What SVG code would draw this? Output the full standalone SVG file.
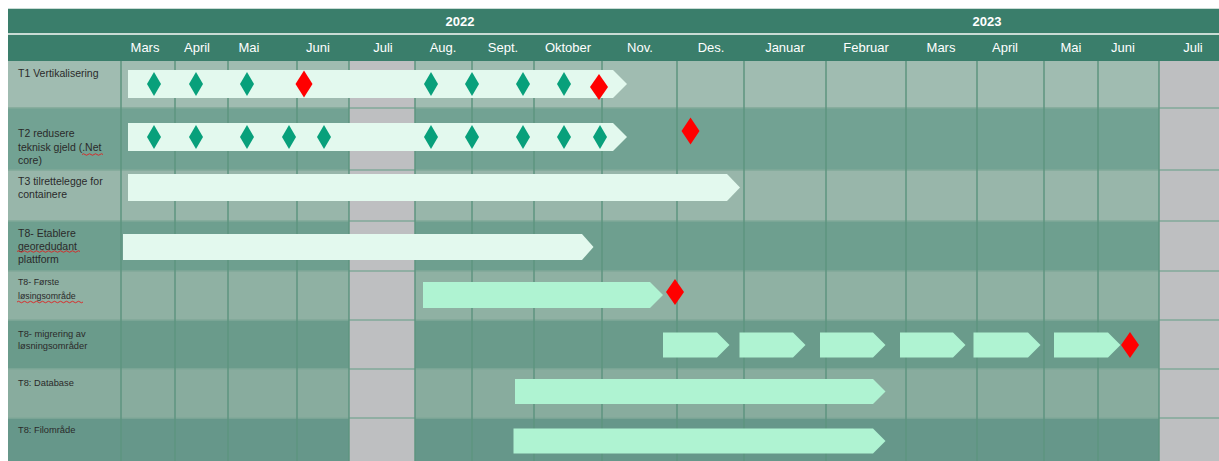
<svg xmlns="http://www.w3.org/2000/svg" width="1219" height="461" viewBox="0 0 1219 461">
<style>
.hdr{fill:#3a7e6b}
.yr{font-family:"Liberation Sans",Arial,sans-serif;font-size:13px;font-weight:bold;fill:#fff;text-anchor:middle}
.mo{font-family:"Liberation Sans",Arial,sans-serif;font-size:13px;fill:#fff;text-anchor:middle}
.lbl{font-family:"Liberation Sans",Arial,sans-serif;font-size:10.5px;fill:#2a2a2a}
.lbs{font-family:"Liberation Sans",Arial,sans-serif;font-size:9.3px;fill:#2a2a2a}
.gray{fill:#bebfc1}
.vl{stroke:#5e957f;stroke-width:1.5}
.hl{stroke:#80a899;stroke-width:1.5}
.bar1{fill:#e3f9ee}
.bar2{fill:#aff3d2}
.gd{fill:#08a07b}
.rd{fill:#ff0000}
.sq{fill:none;stroke:#e02020;stroke-width:0.9}
</style>
<defs>
<polygon id="gdia" points="0,-12 7,0 0,12 -7,0"/>
</defs>
<rect x="0" y="0" width="1219" height="461" fill="#ffffff"/>
<g id="header">
<rect x="8" y="8" width="1211" height="1.5" fill="#c9dcd5"/>
<rect class="hdr" x="8" y="9" width="1211" height="24"/>
<rect x="8" y="33" width="1211" height="2" fill="#c9dcd5"/>
<rect class="hdr" x="8" y="35" width="1211" height="26"/>
<text class="yr" x="460" y="26">2022</text>
<text class="yr" x="987" y="26">2023</text>
<text class="mo" x="145" y="52">Mars</text>
<text class="mo" x="197" y="52">April</text>
<text class="mo" x="249" y="52">Mai</text>
<text class="mo" x="318" y="52">Juni</text>
<text class="mo" x="383" y="52">Juli</text>
<text class="mo" x="443" y="52">Aug.</text>
<text class="mo" x="503" y="52">Sept.</text>
<text class="mo" x="568" y="52">Oktober</text>
<text class="mo" x="640" y="52">Nov.</text>
<text class="mo" x="711" y="52">Des.</text>
<text class="mo" x="785" y="52">Januar</text>
<text class="mo" x="866" y="52">Februar</text>
<text class="mo" x="941" y="52">Mars</text>
<text class="mo" x="1005" y="52">April</text>
<text class="mo" x="1071" y="52">Mai</text>
<text class="mo" x="1123" y="52">Juni</text>
<text class="mo" x="1193" y="52">Juli</text>
</g>
<g id="rows">
<rect x="8" y="61" width="1211" height="47" fill="#a0bcb1"/>
<rect x="8" y="108" width="1211" height="62" fill="#72a293"/>
<rect x="8" y="170" width="1211" height="51" fill="#98b6aa"/>
<rect x="8" y="221" width="1211" height="50" fill="#6e9f8f"/>
<rect x="8" y="271" width="1211" height="49" fill="#8fb1a3"/>
<rect x="8" y="320" width="1211" height="49" fill="#6a9b8b"/>
<rect x="8" y="369" width="1211" height="49" fill="#88ac9e"/>
<rect x="8" y="418" width="1211" height="43" fill="#66978a"/>
<rect class="gray" x="349" y="61" width="66" height="400"/>
<rect class="gray" x="1159" y="61" width="60" height="400"/>
</g>
<g id="grid">
<line class="hl" x1="8" y1="108" x2="1219" y2="108"/>
<line class="hl" x1="8" y1="170" x2="1219" y2="170"/>
<line class="hl" x1="8" y1="221" x2="1219" y2="221"/>
<line class="hl" x1="8" y1="271" x2="1219" y2="271"/>
<line class="hl" x1="8" y1="320" x2="1219" y2="320"/>
<line class="hl" x1="8" y1="369" x2="1219" y2="369"/>
<line class="hl" x1="8" y1="418" x2="1219" y2="418"/>
<line class="vl" x1="121" y1="61" x2="121" y2="461"/>
<line class="vl" x1="175" y1="61" x2="175" y2="461"/>
<line class="vl" x1="228" y1="61" x2="228" y2="461"/>
<line class="vl" x1="297" y1="61" x2="297" y2="461"/>
<line class="vl" x1="349" y1="61" x2="349" y2="461"/>
<line class="vl" x1="415" y1="61" x2="415" y2="461"/>
<line class="vl" x1="472" y1="61" x2="472" y2="461"/>
<line class="vl" x1="534" y1="61" x2="534" y2="461"/>
<line class="vl" x1="602" y1="61" x2="602" y2="461"/>
<line class="vl" x1="677" y1="61" x2="677" y2="461"/>
<line class="vl" x1="744" y1="61" x2="744" y2="461"/>
<line class="vl" x1="826" y1="61" x2="826" y2="461"/>
<line class="vl" x1="906" y1="61" x2="906" y2="461"/>
<line class="vl" x1="977" y1="61" x2="977" y2="461"/>
<line class="vl" x1="1044" y1="61" x2="1044" y2="461"/>
<line class="vl" x1="1098" y1="61" x2="1098" y2="461"/>
<line class="vl" x1="1159" y1="61" x2="1159" y2="461"/>
</g>
<g id="labels">
<text class="lbl" x="18" y="76.5">T1 Vertikalisering</text>
<text class="lbl" x="18" y="137">T2 redusere</text>
<text class="lbl" x="18" y="150.5">teknisk gjeld (.Net</text>
<text class="lbl" x="18" y="164">core)</text>
<path class="sq" d="M82,154.5 q1.5,-1.5 3,0 t3,0 t3,0 t3,0 t3,0 t3,0 t3,0"/>
<text class="lbl" x="18" y="184.5">T3 tilrettelegge for</text>
<text class="lbl" x="18" y="197.5">containere</text>
<text class="lbl" x="18" y="236.5">T8- Etablere</text>
<text class="lbl" x="18" y="249.5">georedudant</text>
<text class="lbl" x="18" y="262.5">plattform</text>
<path class="sq" d="M17,251.5 q1.5,-1.5 3,0 t3,0 t3,0 t3,0 t3,0 t3,0 t3,0 t3,0 t3,0 t3,0 t3,0 t3,0 t3,0 t3,0 t3,0 t3,0 t3,0 t3,0 t3,0 t3,0 t3,0"/>
<text class="lbs" x="18" y="285" style="font-size:8.8px">T8- Første</text>
<text class="lbs" x="18" y="299" style="font-size:8.8px">løsingsområde</text>
<path class="sq" d="M17,302 q1.5,-1.5 3,0 t3,0 t3,0 t3,0 t3,0 t3,0 t3,0 t3,0 t3,0 t3,0 t3,0 t3,0 t3,0 t3,0 t3,0 t3,0 t3,0 t3,0 t3,0 t3,0 t3,0 t3,0"/>
<text class="lbs" x="18" y="336.5">T8- migrering av</text>
<text class="lbs" x="18" y="349">løsningsområder</text>
<text class="lbs" x="18" y="385.5">T8: Database</text>
<text class="lbs" x="18" y="432.5">T8: Filområde</text>
</g>
<g id="task-t1">
<polygon class="bar1" points="128,70 613,70 627,84 613,98 128,98"/>
<use href="#gdia" class="gd" x="154" y="84"/>
<use href="#gdia" class="gd" x="196" y="84"/>
<use href="#gdia" class="gd" x="247" y="84"/>
<polygon class="rd" points="304,70.5 312.5,84 304,97.5 295.5,84"/>
<use href="#gdia" class="gd" x="431" y="84"/>
<use href="#gdia" class="gd" x="472" y="84"/>
<use href="#gdia" class="gd" x="523" y="84"/>
<use href="#gdia" class="gd" x="564" y="84"/>
<polygon class="rd" points="599,74 608,87 599,100 590,87"/>
</g>
<g id="task-t2">
<polygon class="bar1" points="128,123 613,123 627,137 613,151 128,151"/>
<use href="#gdia" class="gd" x="154" y="137"/>
<use href="#gdia" class="gd" x="196" y="137"/>
<use href="#gdia" class="gd" x="247" y="137"/>
<use href="#gdia" class="gd" x="289" y="137"/>
<use href="#gdia" class="gd" x="324" y="137"/>
<use href="#gdia" class="gd" x="431" y="137"/>
<use href="#gdia" class="gd" x="472" y="137"/>
<use href="#gdia" class="gd" x="523" y="137"/>
<use href="#gdia" class="gd" x="564" y="137"/>
<use href="#gdia" class="gd" x="600" y="137"/>
<polygon class="rd" points="690.5,117.5 699.5,131 690.5,144.5 681.5,131"/>
</g>
<g id="task-t3">
<polygon class="bar1" points="128,174 727,174 740,187.5 727,201 128,201"/>
</g>
<g id="task-t8-etablere">
<polygon class="bar1" points="123,234 582,234 593.5,247 582,260 123,260"/>
</g>
<g id="task-t8-forste">
<polygon class="bar2" points="423,282 650,282 663,295 650,308 423,308"/>
<polygon class="rd" points="675,279 684,292 675,305 666,292"/>
</g>
<g id="task-t8-migrering">
<polygon class="bar2" points="663,332.5 717,332.5 729.5,345 717,357.5 663,357.5"/>
<polygon class="bar2" points="739.5,332.5 793,332.5 805.5,345 793,357.5 739.5,357.5"/>
<polygon class="bar2" points="820,332.5 873,332.5 885.5,345 873,357.5 820,357.5"/>
<polygon class="bar2" points="900,332.5 953,332.5 965.5,345 953,357.5 900,357.5"/>
<polygon class="bar2" points="973.5,332.5 1028,332.5 1040.5,345 1028,357.5 973.5,357.5"/>
<polygon class="bar2" points="1054,332.5 1108,332.5 1120.5,345 1108,357.5 1054,357.5"/>
<polygon class="rd" points="1130,332 1139,345 1130,358 1121,345"/>
</g>
<g id="task-t8-database">
<polygon class="bar2" points="515,379 873,379 885.5,391.5 873,404 515,404"/>
</g>
<g id="task-t8-filomrade">
<polygon class="bar2" points="513.5,428.5 873,428.5 885.5,441 873,453.5 513.5,453.5"/>
</g>
</svg>
